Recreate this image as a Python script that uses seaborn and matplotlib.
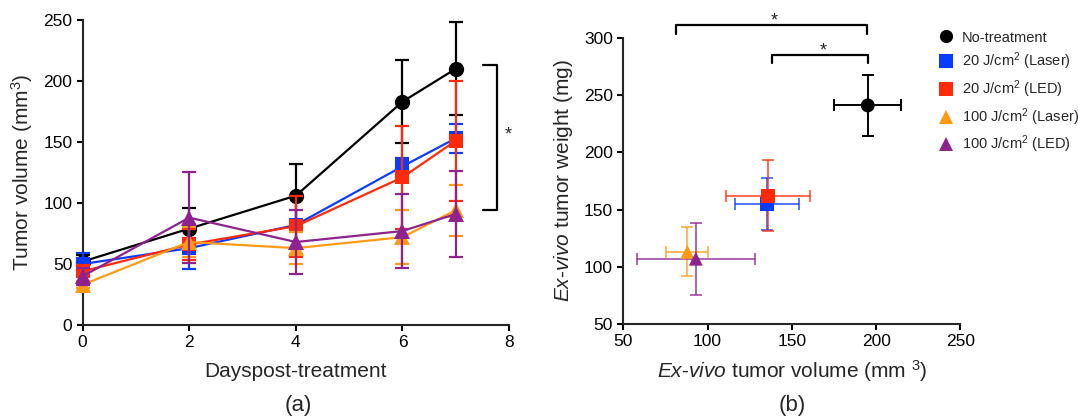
import numpy as np
import pandas as pd
import matplotlib
matplotlib.use("Agg")
import matplotlib.pyplot as plt
import seaborn as sns
from matplotlib.lines import Line2D

# ---------------- data ----------------
groups = ["No-treatment", "20 J/cm$^2$ (Laser)", "20 J/cm$^2$ (LED)",
          "100 J/cm$^2$ (Laser)", "100 J/cm$^2$ (LED)"]
colors = ["#000000", "#0A3CFF", "#FF2A0A", "#FF9A14", "#8E2390"]
markers = ["o", "s", "s", "^", "^"]

days = [0, 2, 4, 6, 7]
vol_none = [52, 79, 106, 183, 210]
vol_none_err = [5, 17, 26, 34, 38]
vol_l20 = [50, 63, 82, 130, 153]
vol_l20_err = [9, 17, 24, 7, 12]
vol_e20 = [44, 66, 81, 121, 151]
vol_e20_err = [5, 13, 25, 42, 49]
vol_l100 = [33, 68, 63, 72, 94]
vol_l100_err = [3, 12, 13, 22, 21]
vol_e100 = [40, 88, 68, 77, 91]
vol_e100_err = [7, 37, 26, 30, 35]

exv_volume = [195, 135, 136, 88, 93]
exv_volume_err = [20, 19, 25, 12.5, 35]
exv_weight = [241, 155, 162, 113, 107]
exv_weight_err = [27, 22.5, 31, 21.5, 31.5]

xticks_a = [0, 2, 4, 6, 8]
yticks_a = [0, 50, 100, 150, 200, 250]
xticks_b = [50, 100, 150, 200, 250]
yticks_b = [50, 100, 150, 200, 250, 300]

# ---------------- style ----------------
sns.set_theme(style="ticks")
plt.rcParams["font.family"] = ["Liberation Sans", "DejaVu Sans"]
plt.rcParams["mathtext.fontset"] = "custom"
plt.rcParams["mathtext.rm"] = "Liberation Sans"
plt.rcParams["mathtext.it"] = "Liberation Sans:italic"
plt.rcParams["axes.linewidth"] = 1.5
plt.rcParams["xtick.major.width"] = 1.5
plt.rcParams["ytick.major.width"] = 1.5
plt.rcParams["xtick.major.size"] = 4
plt.rcParams["ytick.major.size"] = 4
plt.rcParams["xtick.labelsize"] = 12.5
plt.rcParams["ytick.labelsize"] = 12.5
plt.rcParams["xtick.color"] = "black"
plt.rcParams["ytick.color"] = "black"

fig = plt.figure(figsize=(10.78, 4.18), dpi=100)
ax1 = fig.add_axes([0.0767, 0.2225, 0.3955, 0.7297])
ax2 = fig.add_axes([0.5782, 0.2251, 0.3128, 0.6842])

# ---------------- panel (a) ----------------
vals = [vol_none, vol_l20, vol_e20, vol_l100, vol_e100]
errs = [vol_none_err, vol_l20_err, vol_e20_err, vol_l100_err, vol_e100_err]
rows = []
for g, v in zip(groups, vals):
    for d, y in zip(days, v):
        rows.append({"day": d, "volume": y, "group": g})
df_a = pd.DataFrame(rows)

sizes_a = [11, 10.5, 10.5, 11, 11]
for i, g in enumerate(groups):
    sub = df_a[df_a["group"] == g]
    ax1.errorbar(sub["day"], sub["volume"], yerr=errs[i], fmt="none",
                 ecolor=colors[i], elinewidth=1.6, capsize=5, capthick=1.6,
                 zorder=2 + i)
    sns.lineplot(data=sub, x="day", y="volume", ax=ax1, color=colors[i],
                 marker=markers[i], markersize=sizes_a[i], markeredgewidth=0,
                 linewidth=1.6, zorder=2 + i, legend=False)

ax1.set_xlim(0, 8)
ax1.set_ylim(0, 250)
ax1.set_xticks(xticks_a)
ax1.set_yticks(yticks_a)
ax1.set_xlabel("Dayspost-treatment", fontsize=15, labelpad=8)
ax1.set_ylabel("Tumor volume (mm$^3$)", fontsize=15, labelpad=6)
sns.despine(ax=ax1)
for art in ax1.lines + list(ax1.collections):
    art.set_clip_on(False)

# significance bracket
ax1.plot([7.52, 7.77, 7.77, 7.52], [213, 213, 94.5, 94.5], color="black",
         lw=1.6, clip_on=False, zorder=10)
ax1.text(7.98, 156, "*", ha="center", va="center", fontsize=13)

# ---------------- panel (b) ----------------
df_b = pd.DataFrame({"volume": exv_volume, "weight": exv_weight, "group": groups})
for i, g in enumerate(groups):
    a = 1.0 if i == 0 else 0.7
    ax2.errorbar(exv_volume[i], exv_weight[i], xerr=exv_volume_err[i],
                 yerr=exv_weight_err[i], fmt="none", ecolor=colors[i],
                 elinewidth=1.4, capsize=4.5, capthick=1.4, alpha=a,
                 zorder=2 + i)
sns.scatterplot(data=df_b, x="volume", y="weight", hue="group", style="group",
                hue_order=groups, palette=colors,
                markers=dict(zip(groups, markers)), s=100, linewidth=0,
                ax=ax2, zorder=10, legend=False)

ax2.set_xlim(50, 250)
ax2.set_ylim(50, 300)
ax2.set_xticks(xticks_b)
ax2.set_yticks(yticks_b)
ax2.set_xlabel("$\\mathit{Ex}$-$\\mathit{vivo}$ tumor volume (mm $^3$)",
               fontsize=15, labelpad=6)
ax2.set_ylabel("$\\mathit{Ex}$-$\\mathit{vivo}$ tumor weight (mg)",
               fontsize=15, labelpad=6)
sns.despine(ax=ax2)

# brackets above panel (b)
ax2.plot([81.4, 81.4, 194.6, 194.6], [303, 311, 311, 303], color="black",
         lw=1.6, clip_on=False)
ax2.text(139.4, 314.5, "*", ha="center", va="center", fontsize=13)
ax2.plot([138, 138, 195.4, 195.4], [278, 285.4, 285.4, 278], color="black",
         lw=1.6, clip_on=False)
ax2.text(168.7, 289, "*", ha="center", va="center", fontsize=13)

# legend
handles = [Line2D([], [], linestyle="none", marker=m, color=c, markersize=9.5,
                  markeredgewidth=0) for m, c in zip(markers, colors)]
fig.legend(handles, groups, loc="upper left", bbox_to_anchor=(0.871, 0.927),
           frameon=False, fontsize=10.5, handlelength=1.0, handletextpad=0.55,
           labelspacing=0.42, borderpad=0, borderaxespad=0)

fig.text((82.7 + 509) / 2 / 1078 + 0.002, 0.031, "(a)", ha="center",
         va="center", fontsize=16)
fig.text(0.7346, 0.031, "(b)", ha="center", va="center", fontsize=16)

fig.savefig("out.png", dpi=100)
